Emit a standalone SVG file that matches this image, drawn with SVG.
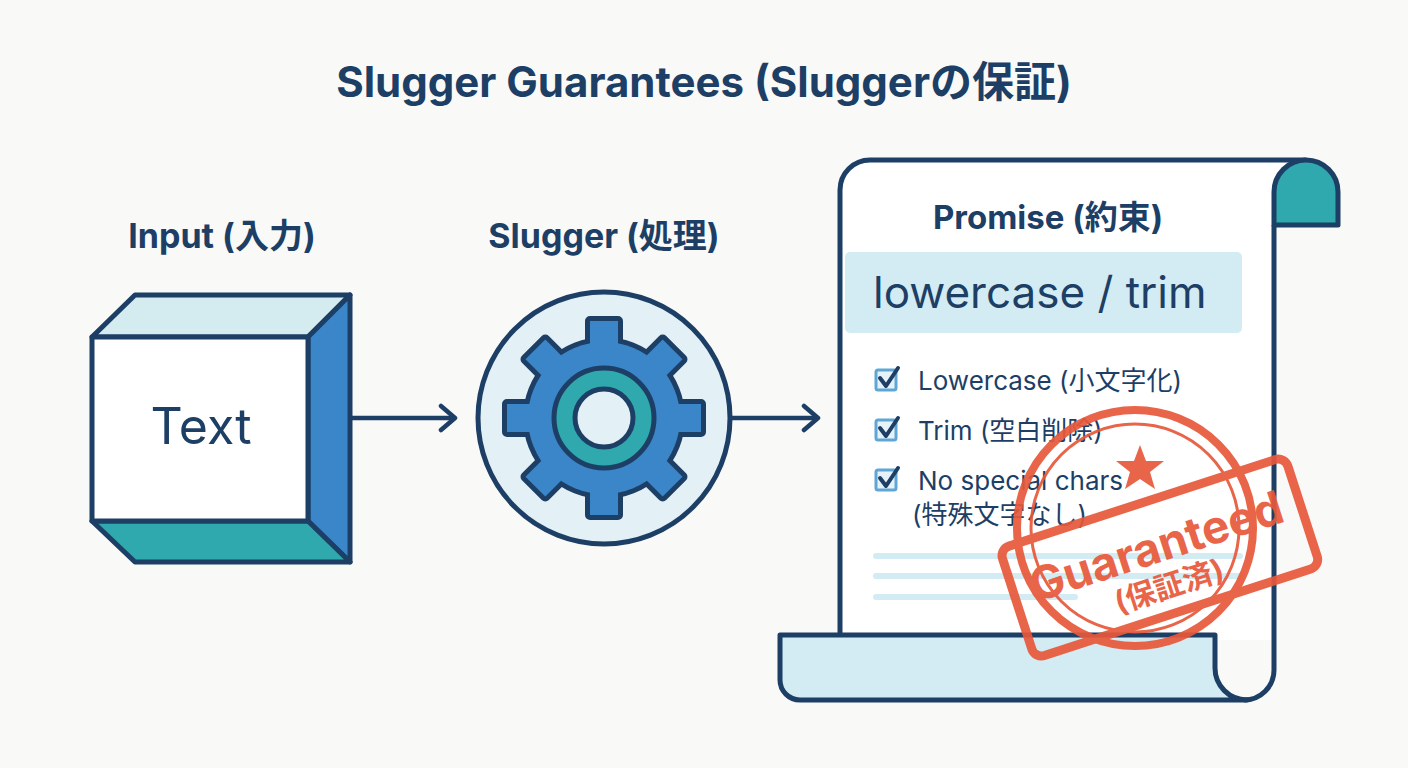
<svg xmlns="http://www.w3.org/2000/svg" width="1408" height="768" viewBox="0 0 1408 768">
<style>
.d{stroke:#1d3f66;stroke-width:5;stroke-linejoin:round}
.t{font-family:"Inter","Noto Sans CJK JP",sans-serif;fill:#1d3f66}
.b{font-weight:700}
.cb{fill:#e6f2f8;stroke:#5ea6d6;stroke-width:3}
.ck{fill:none;stroke:#1d3f66;stroke-width:4;stroke-linecap:round;stroke-linejoin:round}
.ln{stroke:#d3ebf2;stroke-width:6;stroke-linecap:round}
.st{font-family:"Inter","Noto Sans CJK JP",sans-serif;fill:#e8583a;font-weight:700}
</style>
<defs>
<marker id="ah" viewBox="0 0 20 30" refX="17" refY="15" markerWidth="20" markerHeight="30" markerUnits="userSpaceOnUse" orient="auto">
<path d="M3 3 L17 15 L3 27" fill="none" stroke="#1d3f66" stroke-width="4.5" stroke-linecap="round" stroke-linejoin="round"/>
</marker>
</defs>
<rect width="1408" height="768" fill="#f9f9f7"/>
<text class="t b" x="704" y="97" font-size="42" text-anchor="middle">Slugger Guarantees (Sluggerの保証)</text>

<g id="input">
<text class="t b" x="222" y="248" font-size="34" text-anchor="middle">Input (入力)</text>
<polygon class="d" points="92,337 135,295 350,295 308,337" fill="#d4ebf0"/>
<polygon class="d" points="308,337 350,295 350,562 308,521" fill="#3a86c8"/>
<polygon class="d" points="92,521 308,521 350,562 135,562" fill="#2fa9ad"/>
<rect class="d" x="92" y="337" width="216" height="184" fill="#ffffff"/>
<text class="t" x="201" y="444" font-size="50" text-anchor="middle">Text</text>
</g>

<g id="slugger">
<text class="t b" x="604" y="248" font-size="34" text-anchor="middle">Slugger (処理)</text>
<circle class="d" cx="604" cy="418" r="126" fill="#e3f1f6"/>
<g transform="translate(604,418)">
<g fill="#1d3f66" stroke="#1d3f66" stroke-width="10" stroke-linejoin="round">
<circle r="76"/>
<rect x="-14" y="-97" width="28" height="30" transform="rotate(0)"/>
<rect x="-14" y="-97" width="28" height="30" transform="rotate(45)"/>
<rect x="-14" y="-97" width="28" height="30" transform="rotate(90)"/>
<rect x="-14" y="-97" width="28" height="30" transform="rotate(135)"/>
<rect x="-14" y="-97" width="28" height="30" transform="rotate(180)"/>
<rect x="-14" y="-97" width="28" height="30" transform="rotate(225)"/>
<rect x="-14" y="-97" width="28" height="30" transform="rotate(270)"/>
<rect x="-14" y="-97" width="28" height="30" transform="rotate(315)"/>
</g>
<g fill="#3a86c8">
<circle r="76"/>
<rect x="-14" y="-97" width="28" height="30" transform="rotate(0)"/>
<rect x="-14" y="-97" width="28" height="30" transform="rotate(45)"/>
<rect x="-14" y="-97" width="28" height="30" transform="rotate(90)"/>
<rect x="-14" y="-97" width="28" height="30" transform="rotate(135)"/>
<rect x="-14" y="-97" width="28" height="30" transform="rotate(180)"/>
<rect x="-14" y="-97" width="28" height="30" transform="rotate(225)"/>
<rect x="-14" y="-97" width="28" height="30" transform="rotate(270)"/>
<rect x="-14" y="-97" width="28" height="30" transform="rotate(315)"/>
</g>
<circle r="50" fill="#2fa9ad" class="d"/>
<circle r="29" fill="#e3f1f6" class="d"/>
</g>
</g>

<g id="connectors">
<line x1="352" y1="418" x2="455" y2="418" stroke="#1d3f66" stroke-width="4.5" marker-end="url(#ah)"/>
<line x1="732" y1="418" x2="818" y2="418" stroke="#1d3f66" stroke-width="4.5" marker-end="url(#ah)"/>
</g>

<g id="promise">
<path d="M840 640 L840 190 A30 30 0 0 1 870 160 L1306 160 L1274 225 L1274 640 Z" fill="#ffffff"/>
<path class="d" d="M840 640 L840 190 A30 30 0 0 1 870 160 L1306 160" fill="none"/>
<path class="d" d="M1274 225 L1274 192 A32 32 0 0 1 1338 192 L1338 225 Z" fill="#2fa9ad"/>
<path class="d" d="M780 635 L1215 635 L1215 668 A32 32 0 0 0 1247 700 L800 700 A20 20 0 0 1 780 680 Z" fill="#d3ebf2"/>
<path class="d" d="M1274 225 L1274 670 A30 30 0 0 1 1244 700" fill="none"/>
<text class="t b" x="1048" y="229" font-size="33" text-anchor="middle">Promise (約束)</text>
<rect x="845" y="252" width="397" height="81" rx="5" fill="#d3ebf2"/>
<text class="t" x="873" y="308" font-size="44">lowercase / trim</text>
<rect class="cb" x="876" y="370" width="20" height="20" rx="2"/>
<path class="ck" d="M880 378 L886 386 L898 368"/>
<text class="t" x="918" y="390" font-size="26">Lowercase (小文字化)</text>
<rect class="cb" x="876" y="420" width="20" height="20" rx="2"/>
<path class="ck" d="M880 428 L886 436 L898 418"/>
<text class="t" x="918" y="440" font-size="26">Trim (空白削除)</text>
<rect class="cb" x="876" y="470" width="20" height="20" rx="2"/>
<path class="ck" d="M880 478 L886 486 L898 468"/>
<text class="t" x="918" y="490" font-size="26">No special chars</text>
<text class="t" x="912" y="524" font-size="26">(特殊文字なし)</text>
<line class="ln" x1="876" y1="556" x2="1240" y2="556"/>
<line class="ln" x1="876" y1="576" x2="1240" y2="576"/>
<line class="ln" x1="876" y1="597" x2="1075" y2="597"/>
</g>

<g id="stamp" opacity="0.92">
<circle cx="1135" cy="528" r="118" fill="none" stroke="#e8583a" stroke-width="8"/>
<circle cx="1135" cy="528" r="104" fill="none" stroke="#e8583a" stroke-width="3"/>
<polygon points="1140,445 1146,461 1164,461 1150,472 1155,489 1140,479 1125,489 1130,472 1116,461 1134,461" fill="#e8583a"/>
<g transform="rotate(-18 1160 558)">
<rect x="1010" y="500" width="300" height="115" rx="10" fill="none" stroke="#e8583a" stroke-width="9"/>
<text class="st" x="1160" y="562" font-size="46" text-anchor="middle">Guaranteed</text>
<text class="st" x="1160" y="598" font-size="30" font-weight="400" text-anchor="middle">(保証済)</text>
</g>
</g>
</svg>
